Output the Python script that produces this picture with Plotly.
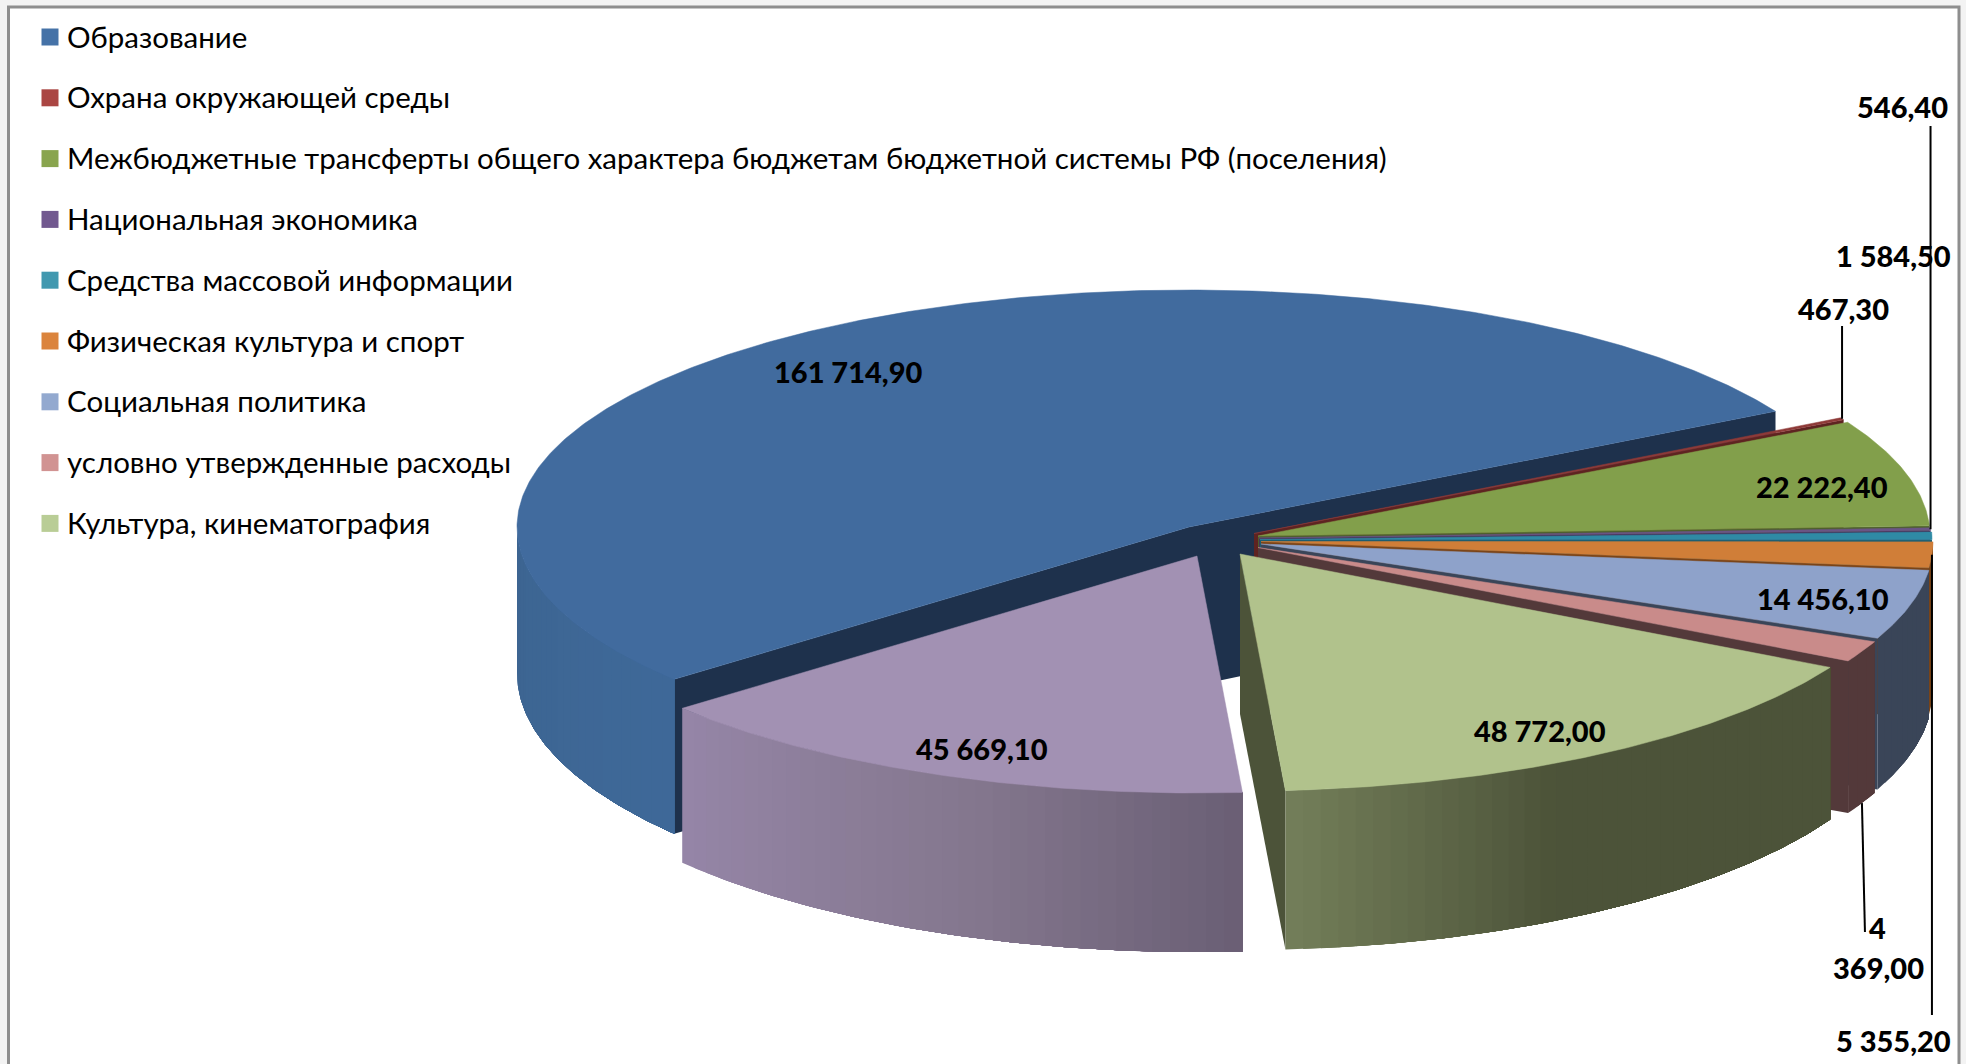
import numpy as np
import plotly.graph_objects as go

# legend entries (the purple slice has no entry in the source legend)
categories = [
    "Образование",
    "Охрана окружающей среды",
    "Межбюджетные трансферты общего характера бюджетам бюджетной системы РФ (поселения)",
    "Национальная экономика",
    "Средства массовой информации",
    "Физическая культура и спорт",
    "Социальная политика",
    "условно утвержденные расходы",
    "Культура, кинематография",
]
# clockwise from the start angle, last one is the unnamed purple slice
values = [161714.90, 467.30, 22222.40, 546.40, 1584.50, 5355.20, 14456.10, 4369.00, 48772.00, 45669.10]

legend_colors = ["#4572a7", "#aa4643", "#89a54e", "#71588f", "#4198af", "#db843d", "#93a9cf", "#d19392", "#b9cd96"]
top_colors = ["#416b9e", "#8e3a38", "#829f4b", "#6a5585", "#2f8aa5", "#d07e38", "#8ea2ca", "#c98b8a", "#b1c28c", "#a291b3"]
wall_colors = ["#1e314c", "#5e2321", "#4d5f2d", "#44355a", "#1e5d70", "#7a4418", "#3a4558", "#53393a", "#4c5339", "#6a5f75"]
# rim shading: (angle, colour) pairs
rim_stops = [
    [(220, "#3f6999"), (180, "#3d6591")],
    None, None, None, None,
    [(0, "#7a4418"), (-7, "#7a4418")],
    [(-6, "#3a4558"), (-24, "#3a4558")],
    [(-23, "#53393a"), (-29, "#53393a")],
    [(-86, "#747f5a"), (-62, "#4c5339"), (-28, "#4c5339")],
    [(-140, "#9686a8"), (-110, "#85788f"), (-86, "#6a5f75")],
]

# each slice's own apex on the page (the slices are pulled out by hand in the source)
apex_x = [1189, 1254, 1258, 1259, 1260, 1261, 1261, 1258, 1240, 1197]
apex_y = [527, 533.5, 536, 538, 539.5, 541.5, 544, 547.5, 554, 556]

RX = 672
RY = 237
START_ANGLE = 220.0


def rim_depth(t):
    return 146 + 13 * abs(np.sin(np.radians(t)))


def hex_rgb(c):
    return np.array([int(c[i:i + 2], 16) for i in (1, 3, 5)], dtype=float)


def rim_color(stops, t):
    ts = [s[0] for s in stops]
    cols = np.array([hex_rgb(s[1]) for s in stops])
    order = np.argsort(ts)
    xs = np.array(ts)[order]
    rgb = [np.interp(t, xs, cols[order, k]) for k in range(3)]
    return "rgb(%d,%d,%d)" % tuple(rgb)


def poly(fig, xs, ys, color, width=0):
    fig.add_trace(go.Scatter(x=xs, y=ys, mode="lines", fill="toself", fillcolor=color,
                             line=dict(color=color, width=width), hoverinfo="skip", showlegend=False))


def rim_point(i, t):
    return apex_x[i] + RX * np.cos(np.radians(t)), apex_y[i] - RY * np.sin(np.radians(t))


def number_text(v):
    return f"{v:,.2f}".replace(",", " ").replace(".", ",")


fig = go.Figure()

total = sum(values)
sweeps = [v / total * 360 for v in values]
starts = START_ANGLE - np.concatenate([[0], np.cumsum(sweeps)[:-1]])
ends = starts - np.array(sweeps)
mids = (starts + ends) / 2

for i in range(len(values)):
    t0, t1 = starts[i], ends[i]

    # flat walls, only those that face the viewer
    for t, normal in ((t0, t0 + 90), (t1, t1 - 90)):
        if np.sin(np.radians(normal)) < 0:
            px, py = rim_point(i, t)
            d = rim_depth(t)
            poly(fig, [apex_x[i], px, px, apex_x[i], apex_x[i]],
                 [apex_y[i], py, py + d, apex_y[i] + 160, apex_y[i]], wall_colors[i])

    # outer rim: each band runs to the far end of the rim and the next one paints over it,
    # that way there are no seams between the shading steps
    if rim_stops[i] is not None:
        for lo, hi in ((-180, 0), (180, 360)):
            a, b = max(t1, lo), min(t0, hi)
            if b <= a:
                continue
            n = max(int((b - a) / 1.5), 1)
            edges = np.linspace(a, b, n + 1)
            for e0 in edges[:-1]:
                ts = np.linspace(e0, b, max(int(b - e0) * 2, 4))
                xs = apex_x[i] + RX * np.cos(np.radians(ts))
                ys = apex_y[i] - RY * np.sin(np.radians(ts))
                ds = np.array([rim_depth(t) for t in ts])
                poly(fig, list(xs) + list(xs[::-1]), list(ys) + list((ys + ds)[::-1]),
                     rim_color(rim_stops[i], e0 + (b - a) / n / 2))

    # top surface
    ts = np.linspace(t0, t1, max(int(abs(t0 - t1)) * 2, 3))
    xs = apex_x[i] + RX * np.cos(np.radians(ts))
    ys = apex_y[i] - RY * np.sin(np.radians(ts))
    poly(fig, [apex_x[i]] + list(xs) + [apex_x[i]], [apex_y[i]] + list(ys) + [apex_y[i]], top_colors[i], width=0.5)

# leader lines: slice index, far end y, start from rim bottom?
leaders = [(1, 326, False), (3, 126, False), (5, 1015, False), (7, 932, True)]
for i, end_y, from_bottom in leaders:
    px, py = rim_point(i, mids[i])
    if from_bottom:
        py += rim_depth(mids[i])
    fig.add_trace(go.Scatter(x=[px, px + (3 if from_bottom else 0)], y=[py, end_y], mode="lines",
                             line=dict(color="#000000", width=2), hoverinfo="skip", showlegend=False))

# legend swatches and labels
legend_y = [37 + 60.8 * k for k in range(len(categories))]
fig.add_trace(go.Scatter(x=[50] * len(categories), y=legend_y, mode="markers",
                         marker=dict(symbol="square", size=17, color=legend_colors),
                         hoverinfo="skip", showlegend=False))
for name, y in zip(categories, legend_y):
    fig.add_annotation(x=65, y=y - 1, text=name, showarrow=False, xanchor="left", yanchor="middle",
                       font=dict(family="Lato, 'Noto Sans', sans-serif", size=29.5, color="#000000"))

# value labels
label_font = dict(family="Lato, sans-serif", size=29, color="#000000", weight=900)
label_x = [848, 1843, 1822, 1902, 1893, 1893, 1823, None, 1540, 982]
label_y = [371, 308, 486, 106, 255, 1040, 598, None, 730, 748]
for i, v in enumerate(values):
    if label_x[i] is None:
        continue
    fig.add_annotation(x=label_x[i], y=label_y[i], text=number_text(v), showarrow=False, font=label_font)
# this one wraps in the source
first, rest = number_text(values[7]).split(" ")
for txt, x, y in ((first, 1877, 927), (rest, 1878, 967)):
    fig.add_annotation(x=x, y=y, text=txt, showarrow=False, font=label_font)

fig.update_layout(
    width=1966, height=1064,
    margin=dict(l=0, r=0, t=0, b=0),
    paper_bgcolor="#f3f3f3",
    plot_bgcolor="#f3f3f3",
    showlegend=False,
    shapes=[dict(type="rect", x0=8.5, y0=7, x1=1959, y1=1075, layer="below",
                 fillcolor="#ffffff", line=dict(color="#8e8e8e", width=3))],
)
fig.update_xaxes(range=[0, 1966], visible=False, fixedrange=True)
fig.update_yaxes(range=[1064, 0], visible=False, fixedrange=True)

fig.write_html("out.html", config=dict(displayModeBar=False),
               post_script="document.body.style.margin='0';document.body.style.overflow='hidden';")
